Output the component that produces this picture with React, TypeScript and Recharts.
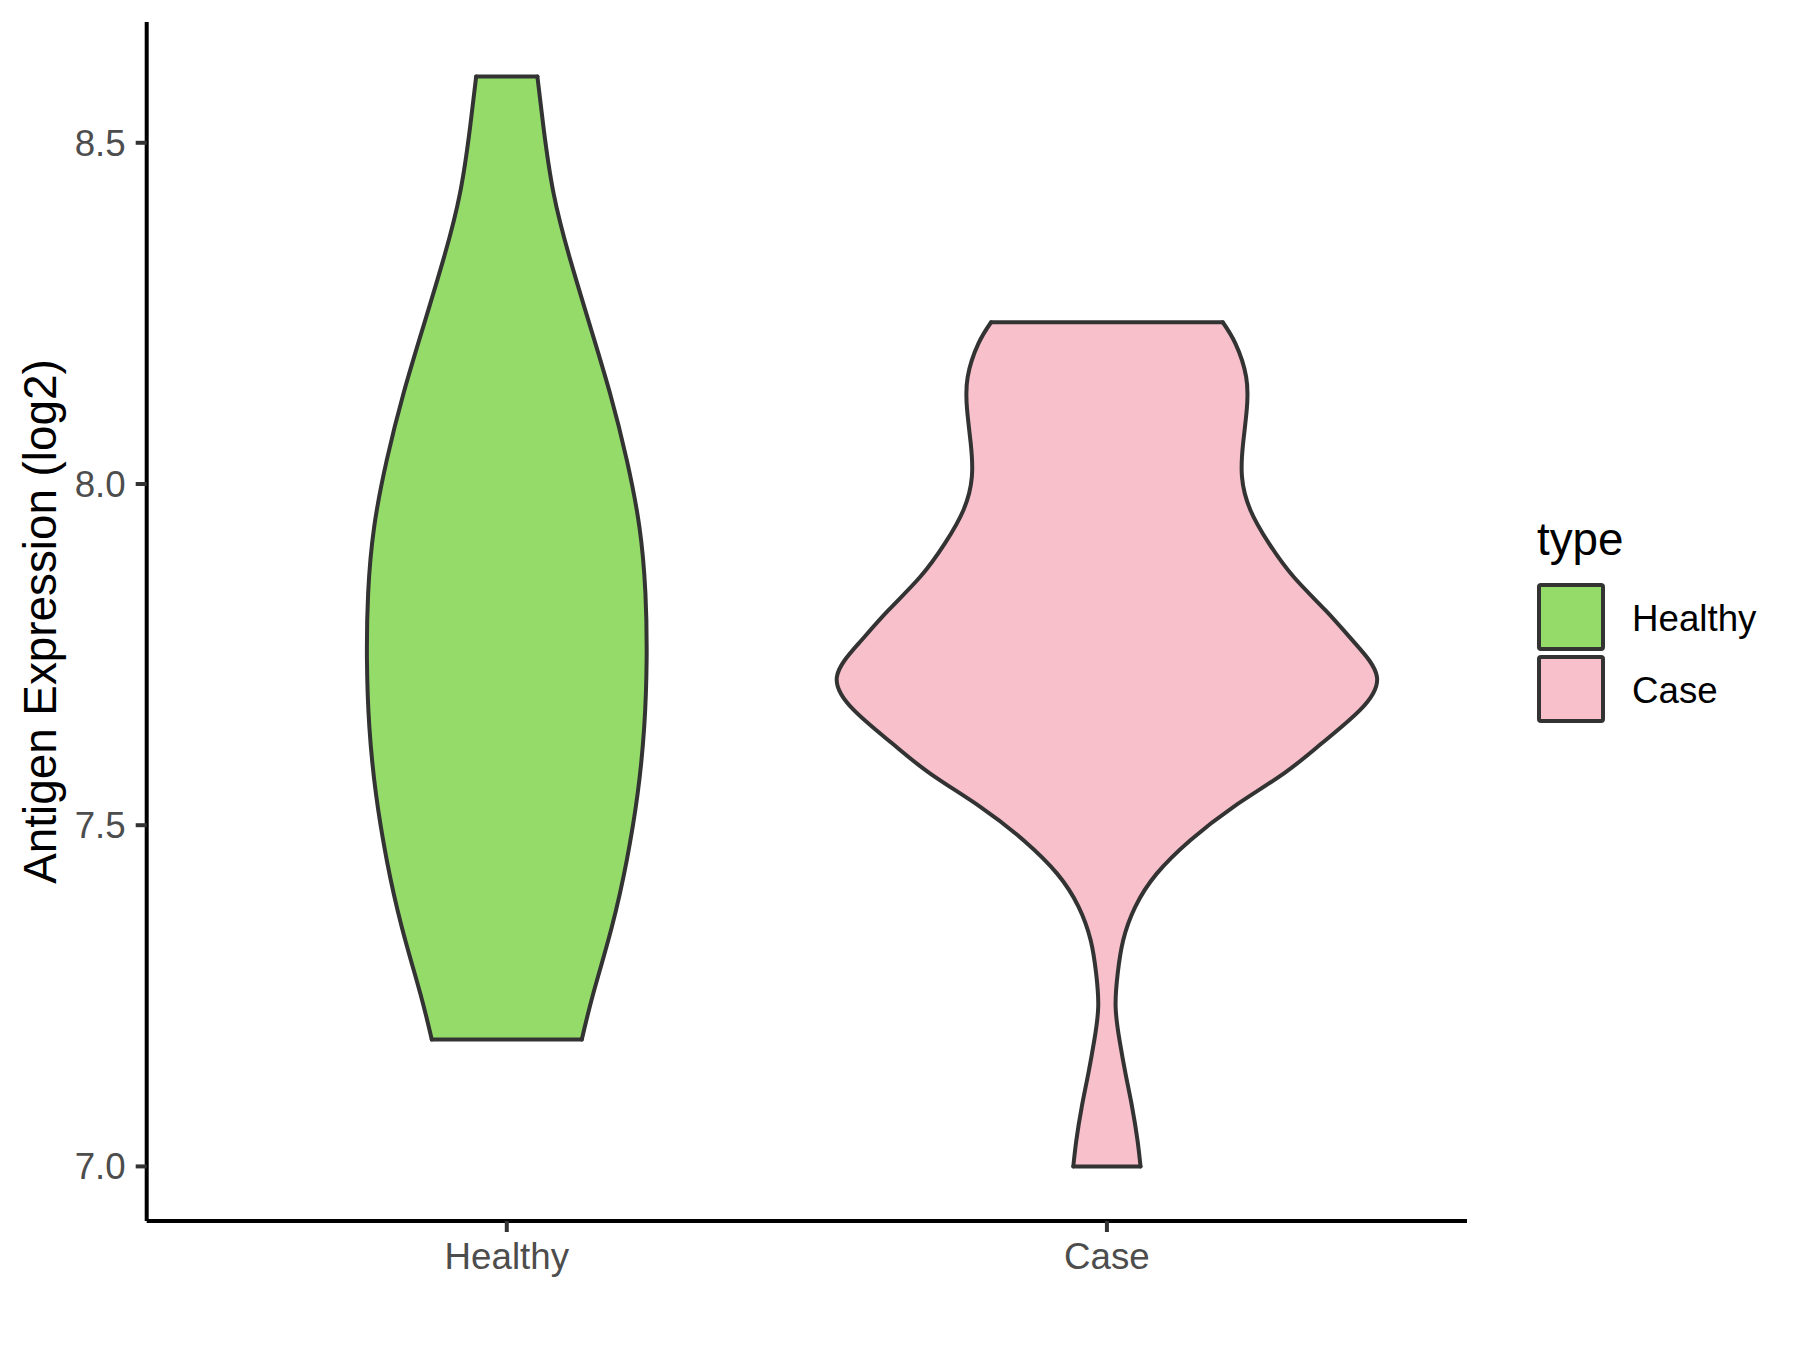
import React from 'react';
import { ComposedChart, Area, XAxis, YAxis, ReferenceLine, Legend } from 'recharts';

const categories = ['Healthy', 'Case'];
const categoryFills = ['#94DB6A', '#F7C0CB'];
const outline = '#333333';
const yTicks = [7.0, 7.5, 8.0, 8.5];
const xTicks = [1, 2];

// violin outlines: expression level and half width (category units)
const healthyLevels = [
  8.597, 8.524, 8.426, 8.328, 8.231, 8.133, 8.035, 7.937, 7.84, 7.742, 7.644, 7.546, 7.449,
  7.351, 7.253, 7.186,
];
const healthyHalfWidth = [
  0.051, 0.061, 0.078, 0.106, 0.139, 0.172, 0.2, 0.221, 0.231, 0.233, 0.229, 0.218, 0.2,
  0.175, 0.144, 0.125,
];

const caseLevels = [
  8.237, 8.206, 8.157, 8.109, 8.06, 8.011, 7.962, 7.913, 7.864, 7.815, 7.766, 7.717, 7.669,
  7.62, 7.576, 7.527, 7.478, 7.429, 7.38, 7.331, 7.283, 7.234, 7.185, 7.136, 7.087, 7.038, 7.0,
];
const caseHalfWidth = [
  0.193, 0.214, 0.232, 0.233, 0.227, 0.225, 0.239, 0.27, 0.311, 0.364, 0.414, 0.45, 0.422,
  0.358, 0.295, 0.211, 0.139, 0.083, 0.047, 0.027, 0.018, 0.0145, 0.021, 0.031, 0.042, 0.051, 0.056,
];

const violinData = (center: number, levels: number[], half: number[]) =>
  levels.map((level, i) => ({ level, range: [center - half[i], center + half[i]] }));

const violins = [
  violinData(1, healthyLevels, healthyHalfWidth),
  violinData(2, caseLevels, caseHalfWidth),
];

const tickStyle = { fill: '#4D4D4D', fontSize: 36.7 };

const LegendBox = () => (
  <svg width={300} height={250}>
    <text x={37} y={55} fontSize={45.8} fill="#000">type</text>
    {categories.map((c, i) => (
      <g key={c}>
        <rect
          x={39}
          y={85 + i * 72}
          width={64}
          height={64}
          rx={2}
          fill={categoryFills[i]}
          stroke={outline}
          strokeWidth={4}
        />
        <text x={132} y={118 + i * 72} fontSize={36.7} fill="#000" dominantBaseline="central">
          {c}
        </text>
      </g>
    ))}
  </svg>
);

export default function App() {
  return (
    <div style={{ position: 'absolute', left: 0, top: 0, fontFamily: '"Liberation Sans", Arial, sans-serif' }}>
      <ComposedChart
        width={1800}
        height={1350}
        layout="vertical"
        margin={{ top: 22, right: 333, bottom: 69, left: 35 }}
      >
        <XAxis
          type="number"
          domain={[0.4, 2.6]}
          ticks={xTicks}
          allowDataOverflow
          tickFormatter={(v: number) => categories[v - 1]}
          height={60}
          tick={tickStyle}
          tickSize={11}
          tickMargin={11}
          axisLine={{ stroke: '#000', strokeWidth: 4 }}
          tickLine={{ stroke: outline, strokeWidth: 4 }}
        />
        <YAxis
          type="number"
          dataKey="level"
          domain={[6.92, 8.677]}
          ticks={yTicks}
          reversed
          allowDataOverflow
          tickFormatter={(v: number) => v.toFixed(1)}
          width={111.7}
          tick={tickStyle}
          tickSize={11}
          tickMargin={10}
          axisLine={{ stroke: '#000', strokeWidth: 4 }}
          tickLine={{ stroke: outline, strokeWidth: 4 }}
          label={{
            value: 'Antigen Expression (log2)',
            angle: -90,
            position: 'insideLeft',
            offset: 5,
            style: { textAnchor: 'middle', fill: '#000', fontSize: 45.8 },
          }}
        />
        {violins.map((d, i) => (
          <Area
            key={categories[i]}
            data={d}
            dataKey="range"
            name={categories[i]}
            type="natural"
            fill={categoryFills[i]}
            fillOpacity={1}
            stroke={outline}
            strokeWidth={4}
            strokeLinejoin="round"
            strokeLinecap="round"
            dot={false}
            activeDot={false}
            isAnimationActive={false}
          />
        ))}
        {violins.map((d, i) =>
          [d[0], d[d.length - 1]].map((row, j) => (
            <ReferenceLine
              key={`${categories[i]}-${j}`}
              segment={[
                { x: row.range[0], y: row.level },
                { x: row.range[1], y: row.level },
              ]}
              stroke={outline}
              strokeWidth={4}
              strokeLinecap="round"
            />
          ))
        )}
        <Legend
          layout="vertical"
          align="center"
          verticalAlign="middle"
          wrapperStyle={{ left: 1500, top: 500, width: 300, height: 250 }}
          content={() => <LegendBox />}
        />
      </ComposedChart>
    </div>
  );
}
